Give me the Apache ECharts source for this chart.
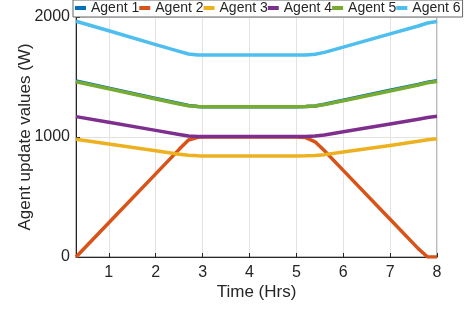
<!DOCTYPE html>
<html>
<head>
<meta charset="utf-8">
<script src="https://cdn.jsdelivr.net/npm/echarts@6/dist/echarts.min.js"></script>
<style>html,body{margin:0;padding:0;background:#fff}#c{width:471px;height:309px}</style>
</head>
<body>
<div id="c"></div>
<script>
const hours = [0.3, 1, 2, 2.5, 2.7, 2.9, 3, 4, 5, 5.2, 5.4, 5.6, 6, 7, 7.6, 7.8, 8];
const agent1 = [1466, 1407, 1321, 1279, 1263, 1255, 1253, 1253, 1253, 1254, 1259, 1273, 1306, 1389, 1438, 1457, 1468];
const agent2 = [0, 285, 693, 897, 975, 998, 1000, 1000, 1000, 995, 960, 885, 722, 314, 70, 0, 0];
const agent3 = [982, 942, 885, 857, 847, 843, 842, 842, 842, 843, 846, 853, 875, 930, 964, 977, 986];
const agent4 = [1170, 1123, 1055, 1021, 1009, 1005, 1004, 1004, 1004, 1005, 1008, 1017, 1043, 1108, 1148, 1163, 1172];
const agent5 = [1461, 1402, 1317, 1275, 1260, 1254, 1253, 1253, 1253, 1254, 1258, 1270, 1302, 1384, 1433, 1452, 1463];
const agent6 = [1965, 1885, 1770, 1713, 1692, 1684, 1683, 1683, 1683, 1684, 1690, 1705, 1749, 1859, 1925, 1950, 1963];
const names = ['Agent 1', 'Agent 2', 'Agent 3', 'Agent 4', 'Agent 5', 'Agent 6'];
const colors = ['#0072BD', '#D95319', '#EDB120', '#7E2F8E', '#77AC30', '#4DBEEE'];
const allData = [agent1, agent2, agent3, agent4, agent5, agent6];

const font = 'Liberation Sans, Arial, Helvetica, sans-serif';
const chart = echarts.init(document.getElementById('c'));
chart.setOption({
  animation: false,
  color: colors,
  grid: { left: 76, right: 34, top: 17, bottom: 52, containLabel: false, outerBoundsMode: 'none',
    show: true, borderColor: '#777', borderWidth: 1, backgroundColor: 'transparent' },
  legend: {
    data: names,
    left: 73, top: 0,
    padding: [1, 2, 2, 2],
    itemGap: 0,
    itemWidth: 11, itemHeight: 4,
    icon: 'rect',
    backgroundColor: '#fff',
    borderColor: '#666', borderWidth: 1,
    textStyle: { fontFamily: font, fontSize: 14, color: '#262626' }
  },
  xAxis: {
    type: 'value', min: 0.3, max: 8, minInterval: 1, maxInterval: 1,
    name: 'Time (Hrs)', nameLocation: 'middle', nameGap: 27, nameMoveOverlap: false,
    nameTextStyle: { fontFamily: font, fontSize: 17, color: '#262626' },
    axisLine: { show: true, lineStyle: { color: '#262626', width: 1 } },
    axisTick: { show: true, inside: true, length: 4, lineStyle: { color: '#262626' } },
    axisLabel: { fontFamily: font, fontSize: 16, color: '#262626', margin: 8,
      formatter: v => (Math.abs(v - Math.round(v)) < 1e-6 ? String(Math.round(v)) : '') },
    splitLine: { show: true, lineStyle: { color: '#e3e3e3', width: 1 } }
  },
  yAxis: {
    type: 'value', min: 0, max: 2000, interval: 1000,
    name: 'Agent update values (W)', nameLocation: 'middle', nameGap: 42, nameMoveOverlap: false,
    nameTextStyle: { fontFamily: font, fontSize: 17, color: '#262626' },
    axisLine: { show: true, lineStyle: { color: '#262626', width: 1 } },
    axisTick: { show: true, inside: true, length: 4, lineStyle: { color: '#262626' } },
    axisLabel: { fontFamily: font, fontSize: 16, color: '#262626', margin: 6, formatter: v => String(v) },
    splitLine: { show: true, lineStyle: { color: '#e3e3e3', width: 1 } }
  },
  series: names.map((n, i) => ({
    name: n, type: 'line', showSymbol: false, symbol: 'none',
    data: hours.map((h, j) => [h, allData[i][j]]),
    lineStyle: { width: 3.5, color: colors[i], join: 'round' },
    itemStyle: { color: colors[i] },
    clip: true
  }))
});
</script>
</body>
</html>
